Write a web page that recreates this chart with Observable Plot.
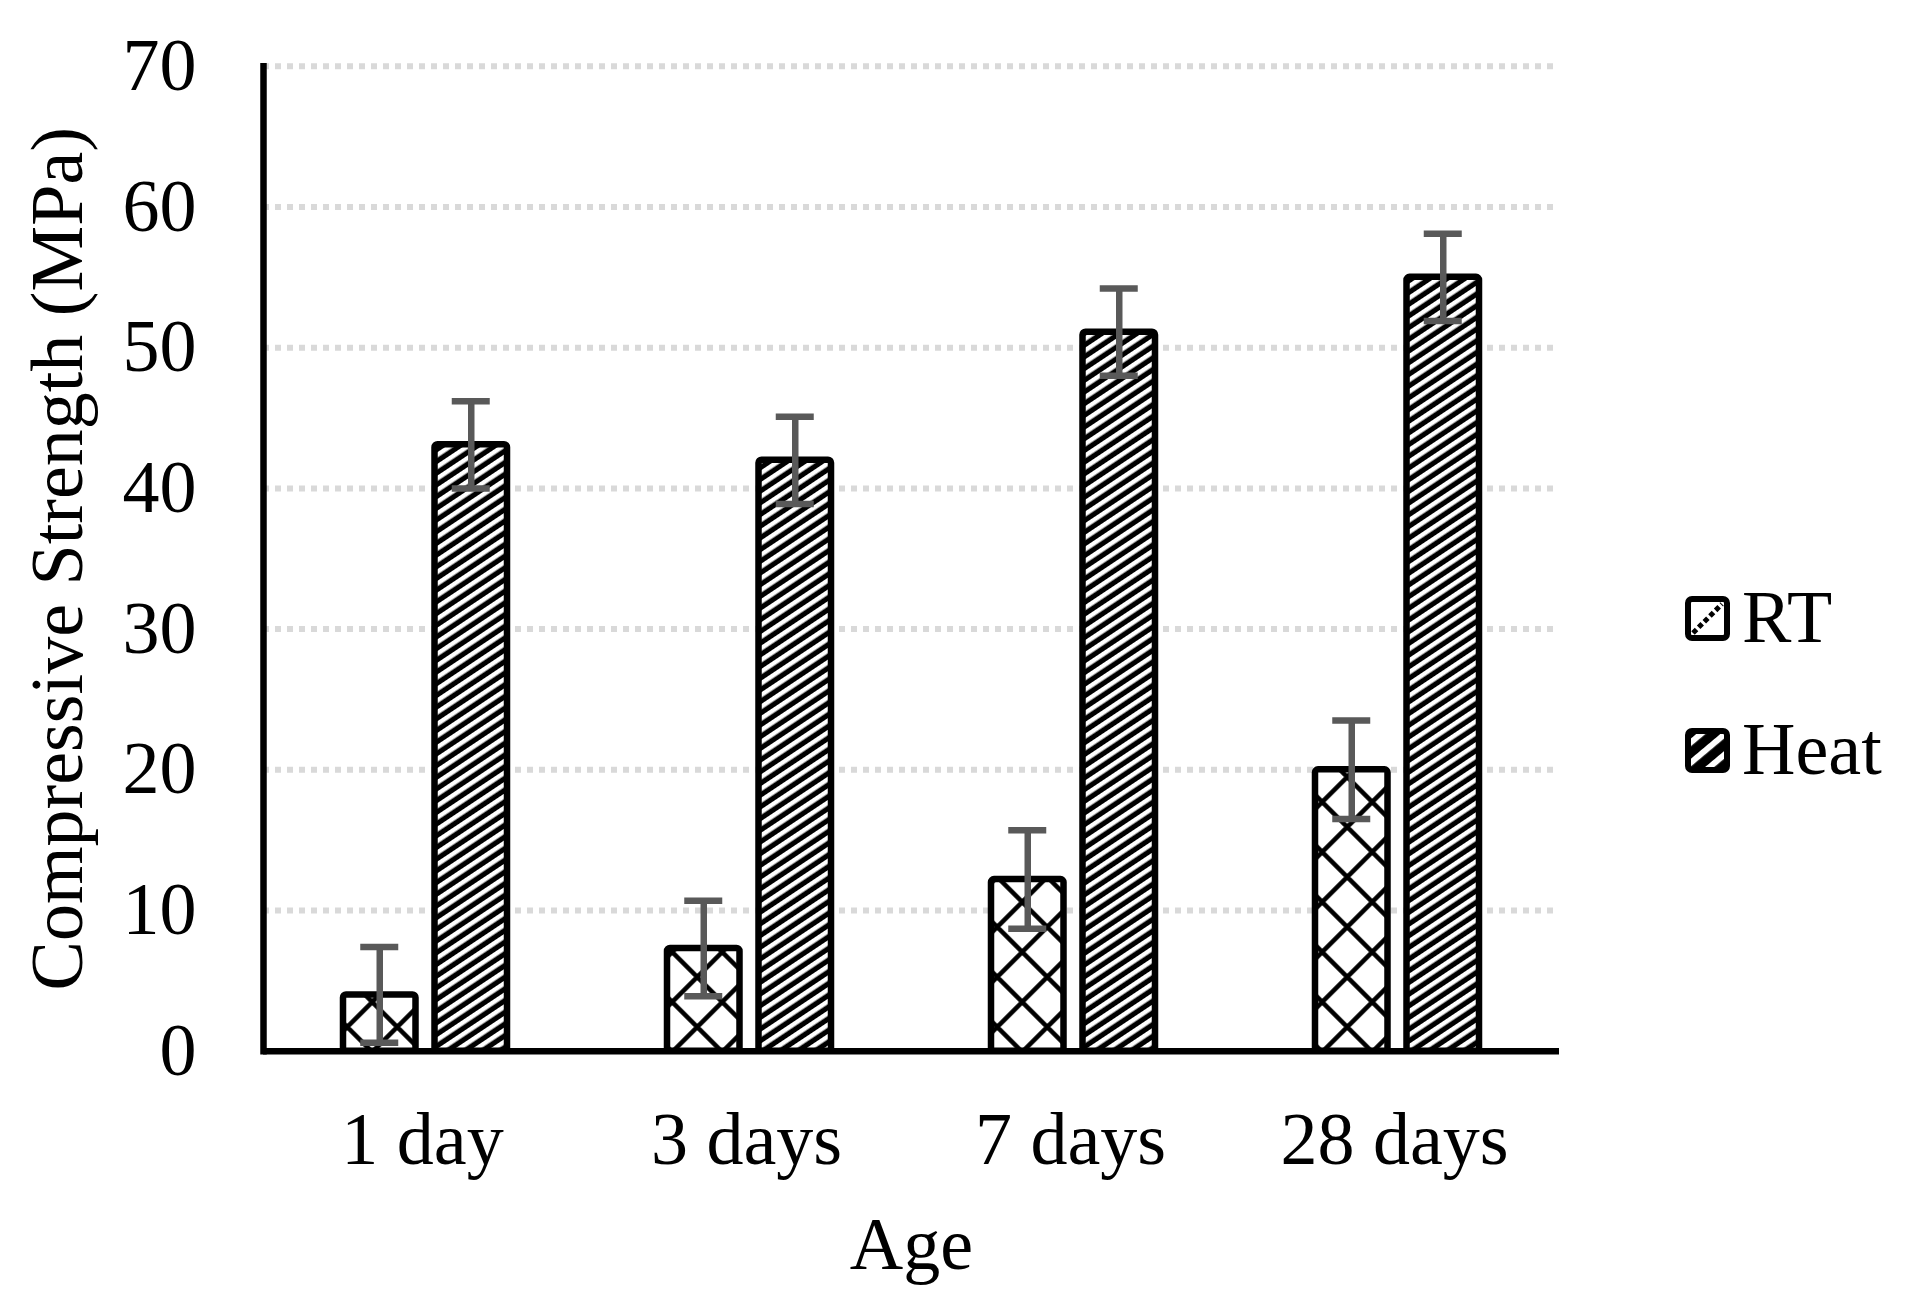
<!DOCTYPE html>
<html><head><meta charset="utf-8">
<script src="https://cdn.jsdelivr.net/npm/d3@7"></script>
<script src="https://cdn.jsdelivr.net/npm/@observablehq/plot@0.6"></script>
<style>
html,body{margin:0;padding:0;background:#fff;}
#wrap{position:relative;width:1908px;height:1306px;overflow:hidden;font-family:"Liberation Serif","Times New Roman",serif;}
#legend{position:absolute;left:1670px;top:570px;overflow:visible;}
</style></head>
<body><div id="wrap"></div>
<script>
// ---- data ----
const ages = ["1 day", "3 days", "7 days", "28 days"];
const series = ["RT", "Heat"];
const rtValues = [4.0, 7.3, 12.2, 20.0];
const rtErrors = [3.4, 3.4, 3.5, 3.5];
const heatValues = [43.1, 42.0, 51.1, 55.0];
const heatErrors = [3.1, 3.1, 3.1, 3.1];
const yTicks = [0, 10, 20, 30, 40, 50, 60, 70];
const yLabel = "Compressive Strength (MPa)";
const xLabel = "Age";

const data = ages.flatMap((age, i) => [
  {age, series: "RT", value: rtValues[i], err: rtErrors[i]},
  {age, series: "Heat", value: heatValues[i], err: heatErrors[i]}
]);

// ---- layout / style ----
const W = 1908, H = 1306;
const mL = 263, mR = 349, mT = 65.8, mB = 255.3;
const bandW = (W - mL - mR) / ages.length;
const barW = 72.5, off = 45.75, capW = 38;
const barInset = (bandW - barW) / 2;
const capInset = (bandW - capW) / 2;
const fills = {RT: "url(#pRT)", Heat: "url(#pHeat)"};
const dxs = {RT: -off, Heat: off};
const errColor = "#595959";

const seriesMarks = series.flatMap(s => {
  const d = data.filter(r => r.series === s);
  return [
    Plot.barY(d, {x: "age", y: "value", fill: fills[s], stroke: "black", strokeWidth: 6.5,
      insetLeft: barInset, insetRight: barInset, dx: dxs[s], rx: 3}),
    Plot.ruleX(d, {x: "age", y1: r => r.value - r.err, y2: r => r.value + r.err, dx: dxs[s],
      stroke: errColor, strokeWidth: 6.5}),
    Plot.tickY(d, {x: "age", y: r => r.value + r.err, dx: dxs[s], insetLeft: capInset, insetRight: capInset,
      stroke: errColor, strokeWidth: 6.5}),
    Plot.tickY(d, {x: "age", y: r => r.value - r.err, dx: dxs[s], insetLeft: capInset, insetRight: capInset,
      stroke: errColor, strokeWidth: 6.5})
  ];
});

const chart = Plot.plot({
  width: W, height: H,
  marginLeft: mL, marginRight: mR, marginTop: mT, marginBottom: mB,
  style: {fontFamily: '"Liberation Serif", "Times New Roman", serif', fontSize: "74px", color: "black", background: "white"},
  x: {type: "band", domain: ages, padding: 0},
  y: {domain: [0, 70]},
  marks: [
    Plot.gridY(yTicks.slice(1), {stroke: "#d9d9d9", strokeOpacity: 1, strokeWidth: 6, strokeDasharray: "6,6"}),
    ...seriesMarks,
    Plot.ruleY([0], {stroke: "black", strokeWidth: 6.5}),
    Plot.frame({anchor: "left", stroke: "black", strokeWidth: 6.5}),
    Plot.axisY({ticks: yTicks, tickSize: 0, tickPadding: 67, fontSize: 74, label: yLabel,
      labelAnchor: "center", labelOffset: 234, labelArrow: "none"}),
    Plot.axisX({tickSize: 0, tickPadding: 60, fontSize: 74, dx: -3, label: xLabel,
      labelAnchor: "center", labelOffset: 218, labelArrow: "none"})
  ]
});

chart.insertAdjacentHTML("afterbegin", `
<defs>
  <pattern id="pHeat" patternUnits="userSpaceOnUse" width="9.73" height="9.73" patternTransform="rotate(56.3)">
    <rect width="9.73" height="9.73" fill="black"/>
    <rect x="0" y="0" width="4.5" height="9.73" fill="white"/>
  </pattern>
  <pattern id="pRT" patternUnits="userSpaceOnUse" width="50" height="50" x="18" y="2">
    <rect width="50" height="50" fill="white"/>
    <path d="M0,0L50,50M50,0L0,50" stroke="black" stroke-width="4.5" fill="none"/>
  </pattern>
</defs>`);

const wrap = document.getElementById("wrap");
wrap.appendChild(chart);

// ---- legend ----
const legendRows = series.map((s, i) => {
  const y = 29 + i * 132;
  const swatch = s === "RT"
    ? `<rect x="18" y="${y}" width="39" height="39" rx="4" fill="white" stroke="black" stroke-width="6"/>
       <line x1="23" y1="${y + 34}" x2="52" y2="${y + 5}" stroke="black" stroke-width="5" stroke-dasharray="5,3"/>`
    : `<rect x="18" y="${y}" width="39" height="39" rx="4" fill="url(#lHeat)" stroke="black" stroke-width="6"/>`;
  return `${swatch}<text x="72" y="${y + 43}" font-size="74" fill="black">${s}</text>`;
}).join("");

wrap.insertAdjacentHTML("beforeend", `
<svg id="legend" width="238" height="250" font-family='"Liberation Serif", "Times New Roman", serif'>
  <defs>
    <pattern id="lHeat" patternUnits="userSpaceOnUse" width="15.5" height="15.5" patternTransform="rotate(50) translate(3,0)">
      <rect width="15.5" height="15.5" fill="black"/>
      <rect x="0" y="0" width="6" height="15.5" fill="white"/>
    </pattern>
  </defs>
  ${legendRows}
</svg>`);
</script>
</body></html>
